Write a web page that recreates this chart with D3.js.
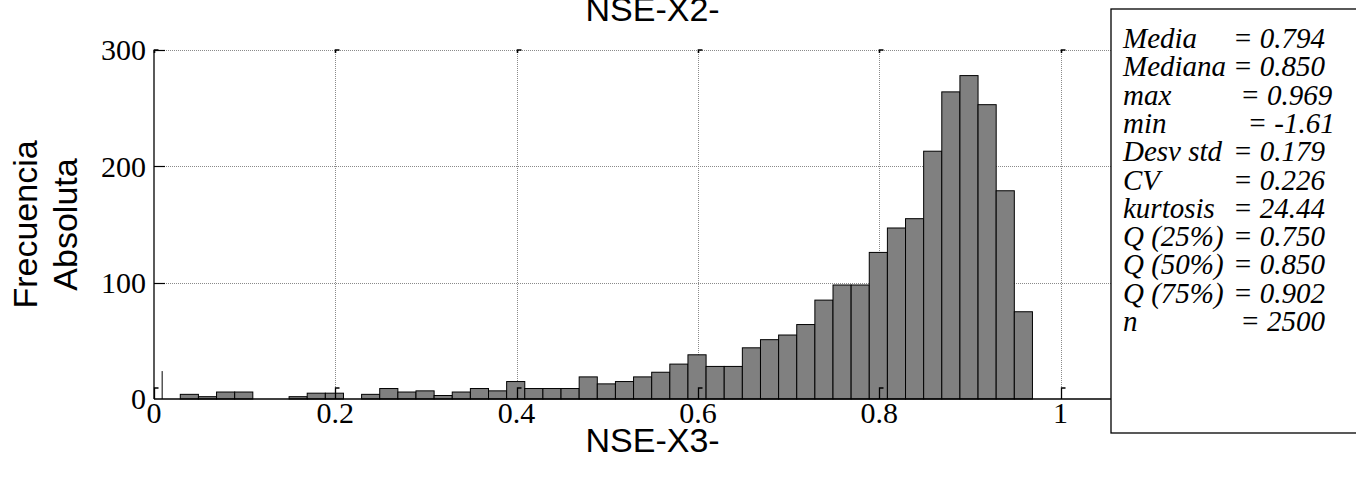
<!DOCTYPE html>
<html>
<head>
<meta charset="utf-8">
<script src="https://cdn.jsdelivr.net/npm/d3@7"></script>
<style>
  html, body { margin: 0; padding: 0; background: #ffffff; }
  svg { display: block; }
</style>
</head>
<body>
<svg id="chart" width="1356" height="483"></svg>
<script>
// Histogram of NSE values (bins of width 0.02 ending at the sample maximum)
const binWidth = 0.02;
const lastEdge = 0.969;
const counts = [0, 4, 2, 6, 6, 0, 0, 2, 5, 5, 0, 4, 9, 6, 7, 3, 6, 9, 7, 15,
                9, 9, 9, 19, 13, 15, 19, 23, 30, 38, 28, 28, 44, 51, 55, 64, 85, 98, 98, 126,
                147, 155, 213, 264, 278, 253, 179, 75];
// bin straddling zero, clipped by the axis limit
const leadBinCount = 24;

const xTicks = [0, 0.2, 0.4, 0.6, 0.8, 1];
const xTickLabels = ["0", "0.2", "0.4", "0.6", "0.8", "1"];
const yTicks = [0, 100, 200, 300];
const yTickLabels = ["0", "100", "200", "300"];

const statNames = ["Media", "Mediana", "max", "min", "Desv std", "CV", "kurtosis",
                   "Q (25%)", "Q (50%)", "Q (75%)", "n"];
const statValues = ["= 0.794", "= 0.850", " = 0.969", "  = -1.61", "= 0.179", "= 0.226",
                    "= 24.44", "= 0.750", "= 0.850", "= 0.902", " = 2500"];

const titleText = "NSE-X2-";
const xLabelText = "NSE-X3-";
const yLabelLines = ["Frecuencia", "Absoluta"];

const svg = d3.select("#chart");
const serif = "'Liberation Serif', 'Times New Roman', serif";
const sans = "'Liberation Sans', Arial, sans-serif";

const x = d3.scaleLinear().domain([0, 1.1]).range([154, 1151.2]);
const y = d3.scaleLinear().domain([0, 300]).range([399, 50]);

const bins = counts.map((c, i) => {
  const x1 = lastEdge - (counts.length - 1 - i) * binWidth;
  return { x0: x1 - binWidth, x1: x1, count: c };
});

// dotted grid
const grid = svg.append("g").attr("stroke", "#8a8a8a").attr("stroke-width", 1)
  .attr("stroke-dasharray", "1,1").attr("fill", "none");
grid.selectAll("line.v").data(xTicks.filter(d => d > 0)).join("line")
  .attr("class", "v")
  .attr("x1", d => Math.round(x(d)) + 0.5).attr("x2", d => Math.round(x(d)) + 0.5)
  .attr("y1", y(300)).attr("y2", y(0));
grid.selectAll("line.h").data(yTicks.filter(d => d > 0)).join("line")
  .attr("class", "h")
  .attr("x1", x(0)).attr("x2", x(1.1))
  .attr("y1", d => Math.round(y(d)) + 0.5).attr("y2", d => Math.round(y(d)) + 0.5);

// bars
svg.append("g").selectAll("rect").data(bins.filter(b => b.count > 0)).join("rect")
  .attr("x", d => x(d.x0))
  .attr("width", d => x(d.x1) - x(d.x0))
  .attr("y", d => y(d.count))
  .attr("height", d => y(0) - y(d.count))
  .attr("fill", "#808080")
  .attr("stroke", "#000")
  .attr("stroke-width", 1);

// visible edge of the clipped bin at zero
const leadEdge = bins[0].x0;
svg.append("line")
  .attr("x1", x(leadEdge)).attr("x2", x(leadEdge))
  .attr("y1", y(leadBinCount)).attr("y2", y(0))
  .attr("stroke", "#000").attr("stroke-width", 1);

// axis lines
svg.append("line").attr("x1", x(0)).attr("x2", x(1.1))
  .attr("y1", y(0)).attr("y2", y(0)).attr("stroke", "#000").attr("stroke-width", 1.3);
svg.append("line").attr("x1", x(0)).attr("x2", x(0))
  .attr("y1", y(300)).attr("y2", y(0)).attr("stroke", "#000").attr("stroke-width", 1.3);

// tick marks
const ticks = svg.append("g").attr("stroke", "#000").attr("fill", "none");
xTicks.forEach(t => {
  const px = Math.round(x(t)) + 0.5;
  ticks.append("path").attr("d", `M${px},${y(0)} V${y(0) - 11} H${px + 4}`).attr("stroke-width", 1.3);
  ticks.append("path").attr("d", `M${px},${y(300) + 3} V${y(300)} H${px + 4}`).attr("stroke-width", 1.6);
});
yTicks.filter(d => d > 0).forEach(t => {
  const py = Math.round(y(t)) + 0.5;
  ticks.append("path").attr("d", `M${x(0)},${py} H${x(0) + 11}`).attr("stroke-width", 1.2);
});

// tick labels
svg.append("g").selectAll("text").data(xTicks).join("text")
  .attr("x", d => x(d)).attr("y", 423)
  .attr("text-anchor", "middle")
  .style("font-family", serif).style("font-size", "30px").attr("fill", "#000")
  .text((d, i) => xTickLabels[i]);
svg.append("g").selectAll("text").data(yTicks).join("text")
  .attr("x", 146).attr("y", d => y(d)).attr("dy", "0.34em")
  .attr("text-anchor", "end")
  .style("font-family", serif).style("font-size", "30px").attr("fill", "#000")
  .text((d, i) => yTickLabels[i]);

// title and axis labels
svg.append("text").attr("x", x(0.55)).attr("y", 21).attr("text-anchor", "middle")
  .style("font-family", sans).style("font-size", "34px").attr("fill", "#000").text(titleText);
svg.append("text").attr("x", x(0.55)).attr("y", 452).attr("text-anchor", "middle")
  .style("font-family", sans).style("font-size", "34px").attr("fill", "#000").text(xLabelText);
const yMid = (y(0) + y(300)) / 2;
yLabelLines.forEach((line, i) => {
  svg.append("text")
    .attr("transform", `translate(${37 + i * 40},${yMid}) rotate(-90)`)
    .attr("text-anchor", "middle")
    .style("font-family", sans).style("font-size", "34px").attr("fill", "#000")
    .text(line);
});

// statistics box
const box = svg.append("g");
box.append("rect").attr("x", 1111).attr("y", 9).attr("width", 300).attr("height", 424)
  .attr("fill", "#fff").attr("stroke", "#000").attr("stroke-width", 1.3);
const rows = box.selectAll("g.row").data(statNames).join("g").attr("class", "row")
  .attr("transform", (d, i) => `translate(0,${48 + i * 28.3})`);
rows.append("text").attr("x", 1123)
  .style("font-family", serif).style("font-style", "italic").style("font-size", "29px")
  .attr("fill", "#000").text(d => d);
rows.append("text").attr("x", 1233).attr("xml:space", "preserve")
  .style("white-space", "pre")
  .style("font-family", serif).style("font-style", "italic").style("font-size", "29px")
  .attr("fill", "#000").text((d, i) => statValues[i]);
</script>
</body>
</html>
